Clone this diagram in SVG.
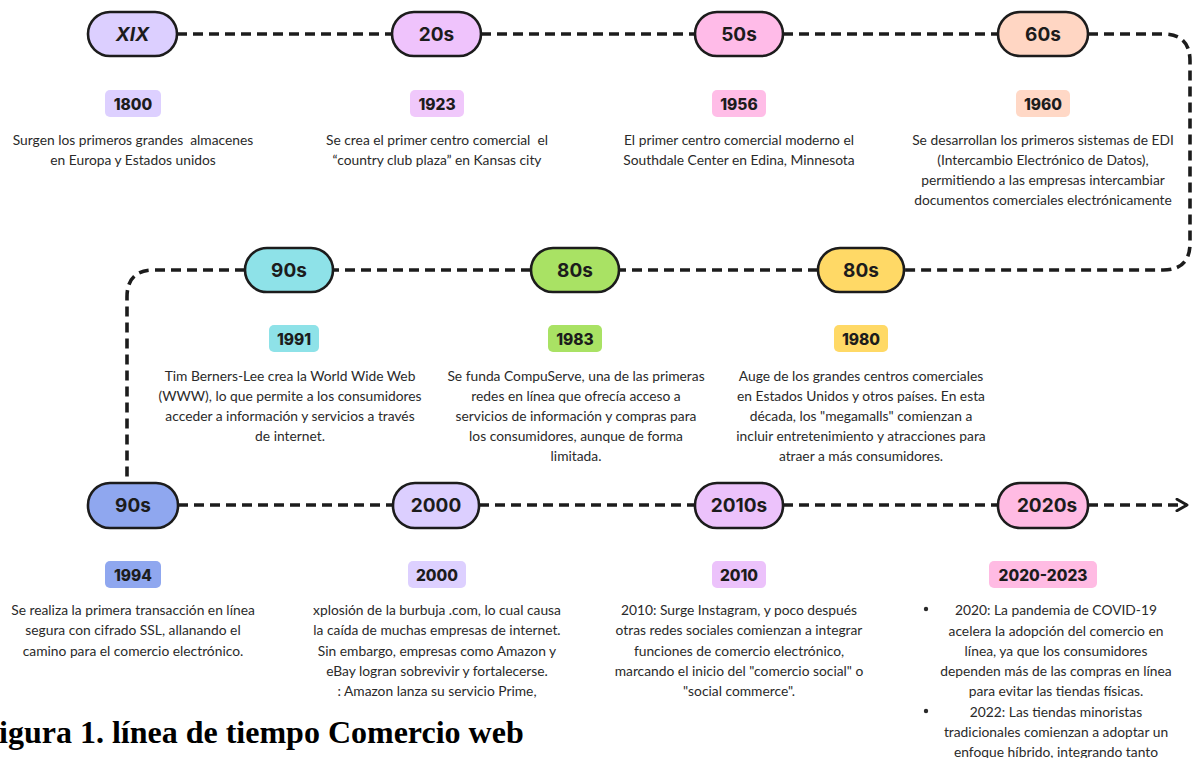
<svg xmlns="http://www.w3.org/2000/svg" width="1192" height="758" viewBox="0 0 1192 758">
<defs>
<style>
.pill{stroke:#1c1c1c;stroke-width:2.6}
.pt{font-family:"Inter","Noto Sans",sans-serif;font-weight:700;font-size:19px;fill:#1c1c1c;text-anchor:middle;dominant-baseline:central}
.yb{stroke:none}
.yt{font-family:"Inter","Noto Sans",sans-serif;font-weight:800;font-size:15.5px;fill:#1c1c1c;text-anchor:middle;dominant-baseline:central}
.d{font-family:"Lato","Noto Sans",sans-serif;font-size:13.8px;fill:#2a2a2a;text-anchor:middle;dominant-baseline:central;white-space:pre}
.c{fill:none;stroke:#1c1c1c;stroke-width:3.6;stroke-dasharray:10 6}
.cap{font-family:"Liberation Serif","Times New Roman",serif;font-weight:700;font-size:32px;fill:#000}
</style>
<marker id="arr" viewBox="0 0 10 10" refX="8" refY="5" markerWidth="4" markerHeight="4" orient="auto" markerUnits="strokeWidth">
<path d="M1,1 L8,5 L1,9" fill="none" stroke="#1c1c1c" stroke-width="2" stroke-linecap="round" stroke-linejoin="round"/>
</marker>
</defs>
<rect width="1192" height="758" fill="#fff"/>

<g id="connectors">
<path class="c" d="M177,34 H392"/>
<path class="c" d="M481,34 H695"/>
<path class="c" d="M783,34 H998"/>
<path class="c" d="M1088,34 H1163 Q1190,34 1190,61 V243 Q1190,270 1163,270 H904"/>
<path class="c" d="M818,270 H619"/>
<path class="c" d="M531,270 H333"/>
<path class="c" d="M245,270 H154 Q127,270 127,297 V487"/>
<path class="c" d="M178,505 H393"/>
<path class="c" d="M479,505 H695"/>
<path class="c" d="M783,505 H998"/>
<path class="c" d="M1088,505 H1187" marker-end="url(#arr)"/>
</g>

<g id="n-xix">
<rect class="pill" x="88" y="12" width="89" height="44" rx="22" fill="#dccfff"/>
<text class="pt" x="132.5" y="34" font-style="italic">XIX</text>
<rect class="yb" x="105" y="90" width="56" height="27" rx="5" fill="#ddd0ff"/>
<text class="yt" x="133" y="104">1800</text>
<text class="d" x="133" y="139" xml:space="preserve">Surgen los primeros grandes  almacenes</text>
<text class="d" x="133" y="159">en Europa y Estados unidos</text>
</g>

<g id="n-20s">
<rect class="pill" x="392" y="12" width="89" height="44" rx="22" fill="#efc3fc"/>
<text class="pt" x="436.5" y="34">20s</text>
<rect class="yb" x="410" y="90" width="54" height="27" rx="5" fill="#f0c8fb"/>
<text class="yt" x="437" y="104">1923</text>
<text class="d" x="437" y="139" xml:space="preserve">Se crea el primer centro comercial  el</text>
<text class="d" x="437" y="159">“country club plaza” en Kansas city</text>
</g>

<g id="n-50s">
<rect class="pill" x="695" y="12" width="88" height="44" rx="22" fill="#ffbbe8"/>
<text class="pt" x="739" y="34">50s</text>
<rect class="yb" x="712" y="90" width="54" height="27" rx="5" fill="#ffbde7"/>
<text class="yt" x="739" y="104">1956</text>
<text class="d" x="739" y="139">El primer centro comercial moderno el</text>
<text class="d" x="739" y="159">Southdale Center en Edina, Minnesota</text>
</g>

<g id="n-60s">
<rect class="pill" x="998" y="12" width="90" height="44" rx="22" fill="#ffd6c3"/>
<text class="pt" x="1043" y="34">60s</text>
<rect class="yb" x="1016" y="90" width="54" height="27" rx="5" fill="#ffd8c6"/>
<text class="yt" x="1043" y="104">1960</text>
<text class="d" x="1043" y="139">Se desarrollan los primeros sistemas de EDI</text>
<text class="d" x="1043" y="159">(Intercambio Electrónico de Datos),</text>
<text class="d" x="1043" y="179">permitiendo a las empresas intercambiar</text>
<text class="d" x="1043" y="199">documentos comerciales electrónicamente</text>
</g>

<g id="n-80s-a">
<rect class="pill" x="818" y="248" width="86" height="44" rx="22" fill="#ffd966"/>
<text class="pt" x="861" y="270">80s</text>
<rect class="yb" x="834" y="325" width="54" height="27" rx="5" fill="#ffd966"/>
<text class="yt" x="861" y="339">1980</text>
<text class="d" x="861" y="375">Auge de los grandes centros comerciales</text>
<text class="d" x="861" y="395">en Estados Unidos y otros países. En esta</text>
<text class="d" x="861" y="415">década, los "megamalls" comienzan a</text>
<text class="d" x="861" y="435">incluir entretenimiento y atracciones para</text>
<text class="d" x="861" y="455">atraer a más consumidores.</text>
</g>

<g id="n-80s-b">
<rect class="pill" x="531" y="248" width="88" height="44" rx="22" fill="#a9e264"/>
<text class="pt" x="575" y="270">80s</text>
<rect class="yb" x="548" y="325" width="54" height="27" rx="5" fill="#a9e264"/>
<text class="yt" x="575" y="339">1983</text>
<text class="d" x="576" y="375">Se funda CompuServe, una de las primeras</text>
<text class="d" x="576" y="395">redes en línea que ofrecía acceso a</text>
<text class="d" x="576" y="415">servicios de información y compras para</text>
<text class="d" x="576" y="435">los consumidores, aunque de forma</text>
<text class="d" x="576" y="455">limitada.</text>
</g>

<g id="n-90s-a">
<rect class="pill" x="245" y="248" width="88" height="44" rx="22" fill="#8ee2e8"/>
<text class="pt" x="289" y="270">90s</text>
<rect class="yb" x="269" y="325" width="50" height="27" rx="5" fill="#8ee2e8"/>
<text class="yt" x="294" y="339">1991</text>
<text class="d" x="290" y="375">Tim Berners-Lee crea la World Wide Web</text>
<text class="d" x="290" y="395">(WWW), lo que permite a los consumidores</text>
<text class="d" x="290" y="415">acceder a información y servicios a través</text>
<text class="d" x="290" y="435">de internet.</text>
</g>

<g id="n-90s-b">
<rect class="pill" x="88" y="483" width="90" height="45" rx="22" fill="#8fa7ef"/>
<text class="pt" x="133" y="505">90s</text>
<rect class="yb" x="105" y="561" width="56" height="27" rx="5" fill="#8fa7ef"/>
<text class="yt" x="133" y="575">1994</text>
<text class="d" x="133" y="609">Se realiza la primera transacción en línea</text>
<text class="d" x="133" y="629">segura con cifrado SSL, allanando el</text>
<text class="d" x="133" y="650">camino para el comercio electrónico.</text>
</g>

<g id="n-2000">
<rect class="pill" x="393" y="483" width="86" height="45" rx="22" fill="#dccfff"/>
<text class="pt" x="436" y="505">2000</text>
<rect class="yb" x="408" y="561" width="58" height="27" rx="5" fill="#ddd0ff"/>
<text class="yt" x="437" y="575">2000</text>
<text class="d" x="437" y="609">xplosión de la burbuja .com, lo cual causa</text>
<text class="d" x="437" y="629">la caída de muchas empresas de internet.</text>
<text class="d" x="437" y="650">Sin embargo, empresas como Amazon y</text>
<text class="d" x="437" y="670">eBay logran sobrevivir y fortalecerse.</text>
<text class="d" x="437" y="690">: Amazon lanza su servicio Prime,</text>
</g>

<g id="n-2010s">
<rect class="pill" x="695" y="483" width="88" height="45" rx="22" fill="#ecc2fb"/>
<text class="pt" x="739" y="505">2010s</text>
<rect class="yb" x="712" y="561" width="54" height="27" rx="5" fill="#ecc2fb"/>
<text class="yt" x="739" y="575">2010</text>
<text class="d" x="739" y="609">2010: Surge Instagram, y poco después</text>
<text class="d" x="739" y="629">otras redes sociales comienzan a integrar</text>
<text class="d" x="739" y="650">funciones de comercio electrónico,</text>
<text class="d" x="739" y="670">marcando el inicio del "comercio social" o</text>
<text class="d" x="739" y="690">"social commerce".</text>
</g>

<g id="n-2020s">
<rect class="pill" x="998" y="483" width="90" height="45" rx="22" fill="#ffbbe3"/>
<text class="pt" x="1047" y="505">2020s</text>
<rect class="yb" x="989" y="561" width="108" height="27" rx="5" fill="#ffbbe3"/>
<text class="yt" x="1043" y="575">2020-2023</text>
<circle cx="926" cy="609" r="2.2" fill="#2a2a2a"/>
<circle cx="926" cy="711" r="2.2" fill="#2a2a2a"/>
<text class="d" x="1056" y="609">2020: La pandemia de COVID-19</text>
<text class="d" x="1056" y="630">acelera la adopción del comercio en</text>
<text class="d" x="1056" y="650">línea, ya que los consumidores</text>
<text class="d" x="1056" y="670">dependen más de las compras en línea</text>
<text class="d" x="1056" y="690">para evitar las tiendas físicas.</text>
<text class="d" x="1056" y="711">2022: Las tiendas minoristas</text>
<text class="d" x="1056" y="731">tradicionales comienzan a adoptar un</text>
<text class="d" x="1056" y="751">enfoque híbrido, integrando tanto</text>
</g>

<text class="cap" x="-1" y="743">igura 1. línea de tiempo Comercio web</text>
</svg>
